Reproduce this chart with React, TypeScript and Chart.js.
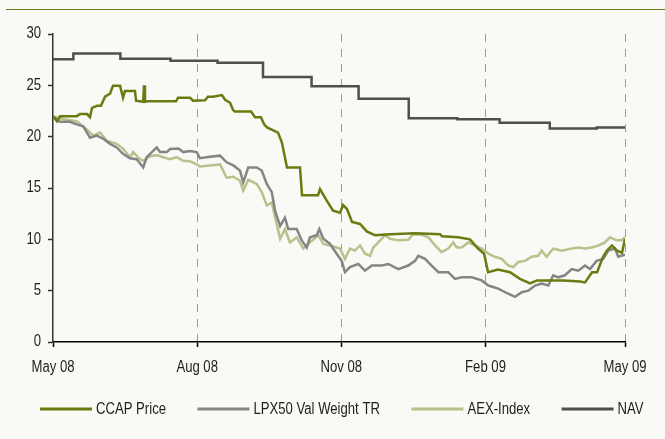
import React, { useEffect, useRef } from "react";
import { Chart, registerables } from "chart.js";

Chart.register(...registerables);

const FONT = "'Liberation Sans', Arial, sans-serif";
const NARROW = 0.82; // horizontal squeeze to mimic a narrow sans face

// x axis: days since 1 May 2008
const tickDays = [0, 92, 184, 276, 365];
const tickLabels = ["May 08", "Aug 08", "Nov 08", "Feb 09", "May 09"];
const yTicks = [0, 5, 10, 15, 20, 25, 30];

const seriesNames = ["CCAP Price", "LPX50 Val Weight TR", "AEX-Index", "NAV"];
const seriesColors = ["#687c12", "#858585", "#b7c28c", "#4f4f4f"];

const ccapDays = [0, 2.6, 4.5, 15.3, 17.2, 21.7, 23.6, 24.9, 28.1, 30.6, 33.2, 36.4, 38.3, 42.8, 44.7, 45.9, 52.3, 53, 57.5, 58.1, 58.7, 60.6, 78.5, 79.8, 87.4, 89.3, 97, 98.9, 102.1, 107.8, 109.8, 113, 114.9, 116.1, 126.4, 128.9, 132.7, 134.7, 136.6, 143.6, 146.1, 149.3, 157.6, 158.9, 169.1, 170.4, 174.2, 178.7, 183.2, 185.1, 187.6, 190.8, 195.9, 200.4, 205.5, 215.1, 231, 247, 248.2, 258.5, 266.1, 271.2, 275.1, 277.6, 284, 291.6, 298, 304.4, 308.9, 325.5, 336.3, 339.5, 344, 347.2, 351, 353.5, 356.7, 359.9, 363.1, 365];
const ccapValues = [22.0, 21.5, 22.0, 22.0, 22.2, 22.2, 21.9, 22.8, 23.0, 23.0, 23.9, 24.2, 24.95, 24.95, 23.8, 24.45, 24.45, 23.5, 23.4, 25.0, 23.4, 23.45, 23.45, 23.8, 23.8, 23.5, 23.55, 23.9, 23.9, 24.05, 23.6, 23.3, 22.6, 22.45, 22.45, 21.9, 21.9, 21.2, 20.9, 20.4, 19.4, 17.0, 17.0, 14.3, 14.3, 14.9, 13.9, 12.8, 12.6, 13.35, 12.95, 11.7, 11.5, 10.75, 10.4, 10.5, 10.6, 10.5, 10.3, 10.2, 10.0, 9.1, 8.6, 6.8, 7.05, 6.8, 6.15, 5.7, 6.0, 6.0, 5.9, 5.8, 6.8, 6.8, 8.3, 8.9, 9.4, 8.9, 8.7, 10.05];

const lpxDays = [0, 4.5, 10.8, 15.1, 19.3, 23.6, 27.9, 32.1, 36.4, 40.6, 44.9, 49.1, 53.4, 57.6, 59.8, 66.2, 68.3, 72.6, 74.7, 80, 83.1, 87.4, 91.7, 93.8, 100.2, 106.6, 110.8, 115.1, 119.3, 121.4, 124.6, 130, 133.2, 136.4, 139.6, 141.7, 144.9, 148, 150.1, 155.5, 158.7, 161.9, 164, 168.3, 169.9, 172.5, 176.8, 181, 184.2, 186.3, 189.5, 194.8, 199.1, 203.4, 209.7, 214, 220.3, 226.7, 231, 233.1, 237.4, 241.6, 245.9, 252.2, 256.5, 260.8, 267.2, 273.6, 277.8, 284.1, 290.5, 294.8, 299.1, 303.3, 307.6, 311.8, 316.1, 319.2, 322.4, 326.7, 331, 335.2, 339.5, 342.7, 346.9, 351.1, 354.3, 358.6, 360.7, 365];
const lpxValues = [21.9, 21.45, 21.45, 21.2, 21.0, 19.9, 20.1, 19.8, 19.3, 18.95, 18.3, 17.9, 17.8, 17.0, 18.0, 18.95, 18.5, 18.5, 18.8, 18.85, 18.5, 18.6, 18.5, 17.9, 18.05, 18.15, 17.5, 17.2, 16.7, 15.55, 17.0, 17.0, 16.7, 15.4, 14.6, 12.8, 11.3, 12.1, 11.0, 11.0, 9.9, 9.2, 10.2, 10.4, 11.0, 10.05, 9.55, 8.6, 7.9, 6.8, 7.3, 7.6, 6.95, 7.45, 7.45, 7.6, 7.1, 7.45, 7.9, 8.4, 8.1, 7.45, 6.8, 6.8, 6.15, 6.3, 6.3, 6.0, 5.5, 5.2, 4.7, 4.4, 4.85, 5.0, 5.5, 5.7, 5.5, 6.5, 6.3, 6.5, 7.1, 6.95, 7.45, 7.1, 7.9, 8.1, 8.9, 9.1, 8.3, 8.5];

const aexDays = [0, 6.6, 15.1, 21.5, 25.7, 30, 34.3, 40.6, 44.9, 49.1, 51.2, 55.5, 57.6, 61.9, 66.2, 70.4, 74.7, 78.9, 83.1, 87.4, 91.7, 93.8, 100.2, 106.6, 110.8, 115.1, 119.3, 121.4, 124.6, 130, 133.2, 136.4, 139.6, 142.7, 144.9, 148, 151.2, 155.5, 159.7, 164, 169.3, 172.5, 176.8, 181, 183.1, 186.3, 189.5, 192.7, 195.9, 199.1, 202.3, 204.4, 207.6, 211.9, 215, 220.3, 226.7, 229.9, 235.3, 239.5, 243.8, 248, 252.2, 255.4, 257.6, 260.8, 265, 269.3, 273.6, 277.8, 282, 286.3, 290.5, 293.7, 296.9, 301.2, 305.5, 309.7, 311.8, 315, 319.2, 324.6, 331, 335.2, 339.5, 343.7, 348, 352.2, 355.4, 359.7, 362.9, 365];
const aexValues = [22.0, 21.7, 21.5, 20.7, 20.1, 20.4, 19.6, 19.3, 18.8, 18.0, 18.5, 17.8, 17.65, 18.1, 18.2, 18.0, 17.8, 18.0, 17.65, 17.6, 17.3, 17.1, 17.2, 17.3, 16.0, 16.1, 15.7, 14.75, 15.8, 15.4, 14.6, 13.3, 13.6, 11.5, 10.05, 11.0, 9.7, 10.2, 9.1, 9.7, 10.4, 9.55, 9.4, 9.2, 9.1, 8.1, 9.1, 8.9, 9.4, 8.6, 8.4, 9.2, 9.7, 10.4, 10.05, 9.9, 9.95, 10.5, 10.45, 10.2, 9.4, 8.75, 9.1, 9.7, 9.2, 9.2, 9.7, 9.4, 9.1, 8.6, 8.3, 8.1, 7.45, 7.3, 7.8, 7.9, 8.3, 8.4, 8.9, 8.3, 9.1, 8.9, 9.1, 9.2, 9.1, 9.2, 9.4, 9.7, 10.2, 9.9, 9.9, 10.2];

const navDays = [0, 13, 43, 75, 105, 134, 165, 195, 227, 258, 285, 317, 347, 365];
const navValues = [27.55, 28.1, 27.6, 27.4, 27.2, 25.8, 24.9, 23.7, 21.8, 21.7, 21.35, 20.8, 20.9, 20.9];

const toPoints = (xs: number[], ys: number[]) => xs.map((x, i) => ({ x, y: ys[i] }));

const TEXT_COLOR = "#1e1e1e";

function narrowText(ctx: CanvasRenderingContext2D, text: string, x: number, y: number, align: CanvasTextAlign, baseline: CanvasTextBaseline) {
  ctx.save();
  ctx.translate(x, y);
  ctx.scale(NARROW, 1);
  ctx.textAlign = align;
  ctx.textBaseline = baseline;
  ctx.fillText(text, 0, 0);
  ctx.restore();
}

const textPlugin = {
  id: "narrowTexts",
  afterDraw(chart: any) {
    const ctx: CanvasRenderingContext2D = chart.ctx;
    const xs = chart.scales.x;
    const ys = chart.scales.y;
    ctx.save();
    ctx.font = `16px ${FONT}`;
    ctx.fillStyle = TEXT_COLOR;
    // x tick labels
    tickDays.forEach((d, i) => {
      narrowText(ctx, tickLabels[i], xs.getPixelForValue(d), ys.bottom + 29.5, "center", "alphabetic");
    });
    // y tick labels
    yTicks.forEach((v) => {
      narrowText(ctx, String(v), xs.left - 12, ys.getPixelForValue(v), "right", "middle");
    });
    // legend
    let x = 40;
    const y = 409;
    chart.data.datasets.forEach((ds: any) => {
      ctx.strokeStyle = ds.borderColor;
      ctx.lineWidth = 3;
      ctx.beginPath();
      ctx.moveTo(x, y);
      ctx.lineTo(x + 52, y);
      ctx.stroke();
      x += 56;
      ctx.fillStyle = TEXT_COLOR;
      narrowText(ctx, ds.label, x, y + 1, "left", "middle");
      x += ctx.measureText(ds.label).width * NARROW + 31.5;
    });
    ctx.restore();
  },
};

export default function App() {
  const ref = useRef<HTMLCanvasElement>(null);
  useEffect(() => {
    if (!ref.current) return;
    const series = [
      toPoints(ccapDays, ccapValues),
      toPoints(lpxDays, lpxValues),
      toPoints(aexDays, aexValues),
      toPoints(navDays, navValues),
    ];
    const chart = new Chart(ref.current, {
      type: "line",
      data: {
        datasets: series.map((data, i) => ({
          label: seriesNames[i],
          data,
          borderColor: seriesColors[i],
          backgroundColor: seriesColors[i],
          borderWidth: 2.5,
          pointRadius: 0,
          tension: 0,
          stepped: i === 3 ? ("before" as const) : false,
        })),
      },
      options: {
        responsive: false,
        animation: false,
        layout: { padding: { left: 0, right: 40, top: 34, bottom: 57 } },
        plugins: { legend: { display: false }, tooltip: { enabled: false } },
        font: { family: FONT, size: 16 },
        scales: {
          x: {
            type: "linear",
            min: 0,
            max: 365,
            afterBuildTicks: (scale: any) => {
              scale.ticks = tickDays.map((v) => ({ value: v }));
            },
            afterFit: (scale: any) => {
              scale.height = 40;
            },
            ticks: { display: false, autoSkip: false, maxRotation: 0 },
            grid: {
              color: (c: any) => (c.index === 0 ? "rgba(0,0,0,0)" : "#9a9a9a"),
              lineWidth: 1,
              drawTicks: true,
              tickLength: 5,
              tickColor: "#000",
              tickWidth: 1.5,
            },
            border: { color: "#000", width: 1.5, dash: [8, 7] },
          },
          y: {
            min: 0,
            max: 30,
            afterBuildTicks: (scale: any) => {
              scale.ticks = yTicks.map((v) => ({ value: v }));
            },
            afterFit: (scale: any) => {
              scale.width = 53;
            },
            ticks: { display: false },
            grid: {
              drawOnChartArea: false,
              drawTicks: true,
              tickLength: 5,
              tickColor: "#333",
              tickWidth: 1.5,
            },
            border: { color: "#333", width: 1.5 },
          },
        },
      },
      plugins: [textPlugin],
    });
    return () => chart.destroy();
  }, []);

  return (
    <div
      style={{
        position: "fixed",
        left: 0,
        top: 0,
        width: 665,
        height: 439,
        background: "#f9f9f5",
      }}
    >
      <div
        style={{
          position: "absolute",
          left: 6,
          top: 9,
          width: 659,
          height: 1,
          background: "#6f7b1c",
        }}
      />
      <canvas ref={ref} width={665} height={439} style={{ position: "absolute", left: 0, top: 0 }} />
    </div>
  );
}
